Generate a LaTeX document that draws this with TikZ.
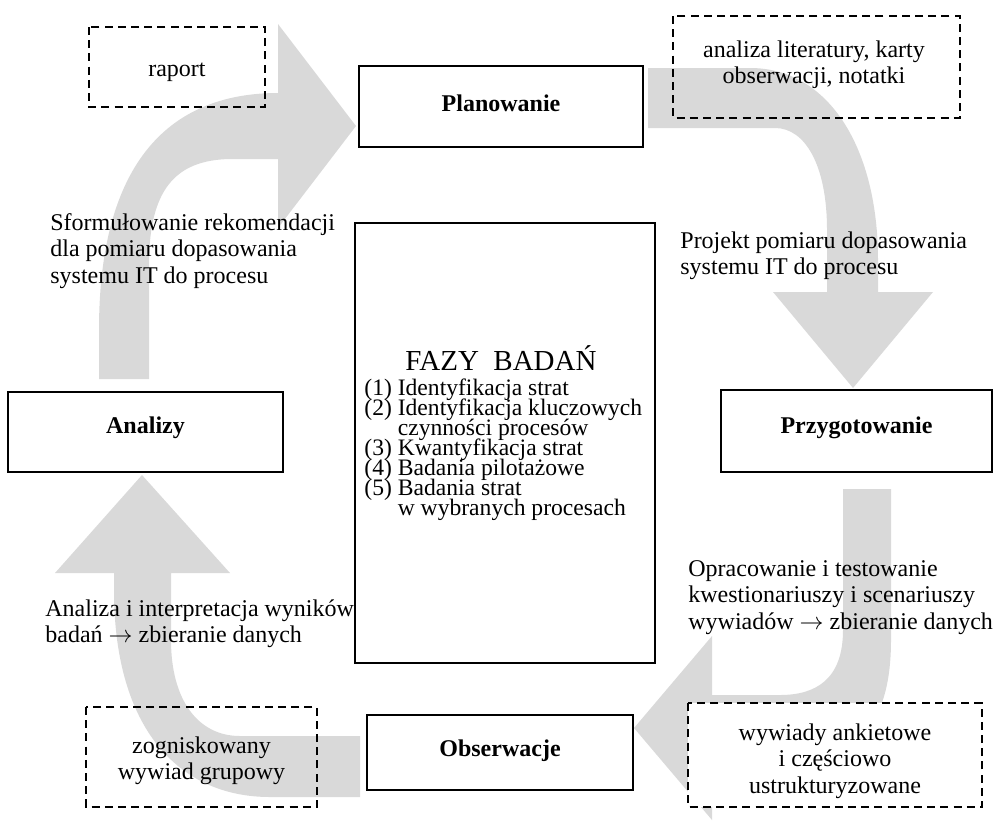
\documentclass[tikz,border=0pt]{standalone}
\usepackage{fontspec}
\setmainfont{Liberation Serif}
\definecolor{arrowgray}{RGB}{217,217,217}
\newcommand{\mylcol}[1]{\vtop{\lineskiplimit=-\maxdimen\halign{##\hfil\cr#1\crcr}}}
\newcommand{\myccol}[1]{\vtop{\lineskiplimit=-\maxdimen\halign{\hfil##\hfil\cr#1\crcr}}}
\newcommand{\myarr}{$\rightarrow$}
\begin{document}
\begin{tikzpicture}[x=0.5pt,y=-0.5pt,
  blockarrow/.style={fill=arrowgray,draw=none},
  phasebox/.style={draw=black,line width=1pt,fill=white},
  notebox/.style={draw=black,line width=0.9pt,dash pattern=on 4pt off 2.6pt},
  phaselabel/.style={font=\fontsize{12}{13.25}\selectfont\bfseries,inner sep=0pt,anchor=base},
  sidetext/.style={font=\fontsize{12}{13.25}\selectfont,inner sep=0pt,anchor=base west},
  notetext/.style={font=\fontsize{12}{13.25}\selectfont,inner sep=0pt,anchor=base}]
\useasboundingbox (0,0) rectangle (995,821);
% gray block arrows
\fill[blockarrow] (99,379) -- (99,330) .. controls (99,150) and (180,93) .. (278,93) -- (278,24) -- (356,126) -- (278,228) -- (278,159) -- (230,159) .. controls (175,160) and (149,190) .. (149,265) -- (149,379) -- cycle;
\fill[blockarrow] (648,68) -- (750,68) .. controls (830,68) and (878,150) .. (878,260) -- (878,292) -- (933,292) -- (853,388) -- (773,292) -- (827,292) -- (827,230) .. controls (827,165) and (805,128) .. (775,128) -- (648,128) -- cycle;
\fill[blockarrow] (843,489) -- (891,489) -- (891,640) .. controls (891,720) and (860,761) .. (790,761) -- (712,761) -- (712,820) -- (634,728) -- (712,636) -- (712,695) -- (780,695) .. controls (815,695) and (843,680) .. (843,630) -- cycle;
\fill[blockarrow] (360,736) -- (360,797) -- (270,797) .. controls (180,797) and (114,730) .. (114,590) -- (114,573) -- (55,573) -- (142,475) -- (230,573) -- (171,573) -- (171,640) .. controls (171,700) and (198,736) .. (240,736) -- cycle;
% boxes
\draw[phasebox] (359,66) rectangle (643,147);
\draw[phasebox] (721,390) rectangle (992,472);
\draw[phasebox] (8,392) rectangle (283,472);
\draw[phasebox] (367,715) rectangle (633,790);
\draw[phasebox] (355,223) rectangle (655,663);
\draw[notebox] (89,27) rectangle (265,107);
\draw[notebox] (673,16) rectangle (960,118);
\draw[notebox] (86,707) rectangle (317,807);
\draw[notebox,fill=white] (688,703) rectangle (982,807);
% phase labels
\node[phaselabel] (planT) at (501,111) {Planowanie};
\node[phaselabel] (przT) at (856.5,433) {Przygotowanie};
\node[phaselabel] (anaT) at (145.5,433) {Analizy};
\node[phaselabel] (obsT) at (500,756) {Obserwacje};
% side texts
\node[sidetext] (rekT) at (50,230) {\mylcol{Sformułowanie rekomendacji\cr dla pomiaru dopasowania\cr systemu IT do procesu}};
\node[sidetext] (projT) at (680,248) {\mylcol{Projekt pomiaru dopasowania\cr systemu IT do procesu}};
\node[sidetext] (anT) at (45,616) {\mylcol{Analiza i interpretacja wyników\cr badań \myarr{} zbieranie danych}};
\node[sidetext] (opT) at (688,576) {\mylcol{Opracowanie i testowanie\cr kwestionariuszy i scenariuszy\cr wywiadów \myarr{} zbieranie danych}};
% note texts
\node[notetext] (rapT) at (177,76) {raport};
\node[notetext] (litT) at (814,57) {\myccol{analiza literatury, karty\cr obserwacji, notatki}};
\node[notetext] (zogT) at (201.5,753) {\myccol{zogniskowany\cr wywiad grupowy}};
\node[notetext] (wywT) at (835,740) {\myccol{wywiady ankietowe\cr i częściowo\cr ustrukturyzowane}};
% central box
\node[font=\fontsize{14.5}{16}\selectfont,inner sep=0pt,anchor=base] (fazyT) at (501,370) {FAZY\ \ BADAŃ};
\node[font=\fontsize{11.8}{10}\selectfont,inner sep=0pt,anchor=base west] (listT) at (364,395) {\mylcol{(1) Identyfikacja strat\cr (2) Identyfikacja kluczowych\cr \hphantom{(2) }czynności procesów\cr (3) Kwantyfikacja strat\cr (4) Badania pilotażowe\cr (5) Badania strat\cr \hphantom{(5) }w wybranych procesach}};
\end{tikzpicture}
\end{document}
